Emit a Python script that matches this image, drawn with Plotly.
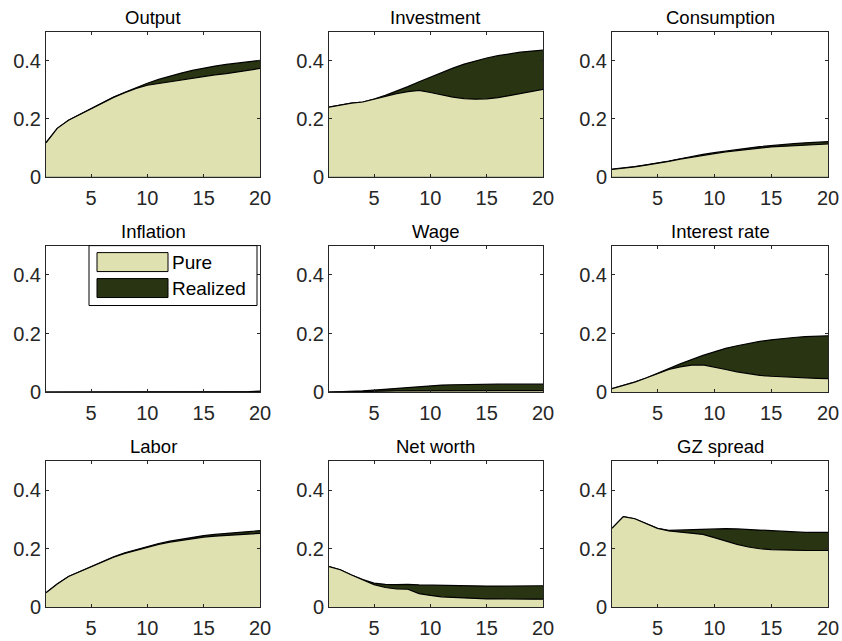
import plotly.graph_objects as go

# Impulse responses, periods 1..20
periods = list(range(1, 21))

titles = ["Output", "Investment", "Consumption",
          "Inflation", "Wage", "Interest rate",
          "Labor", "Net worth", "GZ spread"]

output_pure = [0.117, 0.167, 0.195, 0.215, 0.236, 0.256, 0.274, 0.290, 0.305, 0.316,
               0.322, 0.328, 0.333, 0.340, 0.347, 0.352, 0.356, 0.362, 0.368, 0.374]
output_realized = [0.117, 0.167, 0.195, 0.215, 0.236, 0.256, 0.275, 0.292, 0.308, 0.323,
                   0.336, 0.348, 0.358, 0.367, 0.375, 0.382, 0.388, 0.393, 0.398, 0.402]

investment_pure = [0.240, 0.248, 0.254, 0.258, 0.268, 0.277, 0.287, 0.294, 0.298, 0.291,
                   0.283, 0.275, 0.270, 0.268, 0.269, 0.273, 0.280, 0.288, 0.295, 0.302]
investment_realized = [0.240, 0.248, 0.254, 0.258, 0.268, 0.281, 0.295, 0.311, 0.328, 0.344,
                       0.360, 0.375, 0.389, 0.400, 0.410, 0.418, 0.425, 0.430, 0.434, 0.437]

consumption_pure = [0.025, 0.029, 0.034, 0.040, 0.046, 0.053, 0.061, 0.068, 0.075, 0.080,
                    0.086, 0.091, 0.095, 0.099, 0.103, 0.105, 0.108, 0.110, 0.112, 0.113]
consumption_realized = [0.026, 0.030, 0.035, 0.041, 0.047, 0.054, 0.062, 0.070, 0.077, 0.083,
                        0.089, 0.094, 0.099, 0.104, 0.108, 0.111, 0.114, 0.117, 0.119, 0.121]

inflation_pure = [0.001, 0.001, 0.001, 0.001, 0.001, 0.001, 0.001, 0.001, 0.001, 0.001,
                  0.001, 0.001, 0.001, 0.001, 0.001, 0.001, 0.001, 0.001, 0.001, 0.001]
inflation_realized = [0.001, 0.001, 0.002, 0.002, 0.002, 0.002, 0.002, 0.002, 0.002, 0.002,
                      0.002, 0.002, 0.002, 0.003, 0.003, 0.003, 0.003, 0.003, 0.003, 0.004]

wage_pure = [0.001, 0.002, 0.003, 0.004, 0.004, 0.005, 0.005, 0.005, 0.005, 0.005,
             0.006, 0.006, 0.006, 0.006, 0.006, 0.006, 0.006, 0.006, 0.006, 0.006]
wage_realized = [0.001, 0.002, 0.003, 0.005, 0.008, 0.011, 0.015, 0.018, 0.021, 0.023,
                 0.025, 0.026, 0.027, 0.027, 0.028, 0.028, 0.028, 0.028, 0.028, 0.028]

interest_pure = [0.013, 0.023, 0.035, 0.049, 0.064, 0.078, 0.087, 0.093, 0.094, 0.087,
                 0.078, 0.070, 0.063, 0.058, 0.055, 0.053, 0.050, 0.049, 0.048, 0.047]
interest_realized = [0.013, 0.023, 0.035, 0.049, 0.064, 0.081, 0.097, 0.112, 0.126, 0.138,
                     0.150, 0.159, 0.167, 0.174, 0.179, 0.184, 0.187, 0.190, 0.192, 0.193]

labor_pure = [0.049, 0.079, 0.105, 0.122, 0.139, 0.155, 0.171, 0.184, 0.195, 0.206,
              0.215, 0.223, 0.229, 0.235, 0.240, 0.243, 0.246, 0.249, 0.251, 0.253]
labor_realized = [0.049, 0.079, 0.105, 0.122, 0.139, 0.156, 0.172, 0.186, 0.197, 0.209,
                  0.218, 0.226, 0.233, 0.240, 0.245, 0.249, 0.253, 0.256, 0.259, 0.262]

networth_pure = [0.139, 0.128, 0.110, 0.094, 0.077, 0.067, 0.062, 0.061, 0.046, 0.040,
                 0.035, 0.033, 0.031, 0.030, 0.028, 0.028, 0.027, 0.027, 0.027, 0.027]
networth_realized = [0.139, 0.128, 0.110, 0.094, 0.082, 0.078, 0.077, 0.078, 0.076, 0.075,
                     0.074, 0.073, 0.073, 0.072, 0.072, 0.072, 0.072, 0.072, 0.073, 0.073]

gz_pure = [0.270, 0.310, 0.303, 0.287, 0.270, 0.261, 0.257, 0.253, 0.249, 0.238,
           0.226, 0.215, 0.206, 0.200, 0.197, 0.195, 0.195, 0.194, 0.194, 0.194]
gz_realized = [0.270, 0.310, 0.303, 0.287, 0.270, 0.263, 0.264, 0.266, 0.268, 0.269,
               0.269, 0.268, 0.266, 0.263, 0.261, 0.259, 0.257, 0.256, 0.256, 0.256]

pure_series = [output_pure, investment_pure, consumption_pure,
               inflation_pure, wage_pure, interest_pure,
               labor_pure, networth_pure, gz_pure]
realized_series = [output_realized, investment_realized, consumption_realized,
                   inflation_realized, wage_realized, interest_realized,
                   labor_realized, networth_realized, gz_realized]

x_ticks = [5, 10, 15, 20]
y_ticks = [0, 0.2, 0.4]
y_ticktext = ["0", "0.2", "0.4"]

PURE_COLOR = "rgb(224,225,177)"
REALIZED_COLOR = "rgb(40,52,18)"
AXIS_COLOR = "#262626"
FONT = "Liberation Sans, Arial, sans-serif"

# layout grid expressed on an 842 x 641 canvas
GW, GH = 842, 641
FIG_W, FIG_H = 853, 651
# axes boxes in pixels (left, right) and (top, bottom)
col_px = [(46, 260), (329, 543), (612, 828)]
row_px = [(32, 177), (246, 393), (462, 608)]


def px_x(p):
    return p / GW


def px_y(p):
    return 1 - p / GH


fig = go.Figure()
layout = {}
annotations = []

for i in range(9):
    r, c = divmod(i, 3)
    n = i + 1
    xa = "x" if n == 1 else f"x{n}"
    ya = "y" if n == 1 else f"y{n}"
    fig.add_trace(go.Scatter(
        x=periods, y=realized_series[i], mode="lines", fill="tozeroy",
        fillcolor=REALIZED_COLOR, line=dict(color="black", width=1.2),
        xaxis=xa, yaxis=ya, showlegend=False, hoverinfo="skip"))
    fig.add_trace(go.Scatter(
        x=periods, y=pure_series[i], mode="lines", fill="tozeroy",
        fillcolor=PURE_COLOR, line=dict(color="black", width=1.2),
        xaxis=xa, yaxis=ya, showlegend=False, hoverinfo="skip"))

    xl, xr = col_px[c]
    yt, yb = row_px[r]
    xkey = "xaxis" if n == 1 else f"xaxis{n}"
    ykey = "yaxis" if n == 1 else f"yaxis{n}"
    layout[xkey] = dict(
        domain=[px_x(xl), px_x(xr)], anchor=ya, range=[1, 20],
        tickvals=x_ticks, ticks="inside", ticklen=3, tickcolor=AXIS_COLOR,
        showline=True, linecolor=AXIS_COLOR, linewidth=1, mirror="ticks",
        showgrid=False, zeroline=False, ticklabelstandoff=3,
        tickfont=dict(family=FONT, size=20, color=AXIS_COLOR))
    layout[ykey] = dict(
        domain=[px_y(yb), px_y(yt)], anchor=xa, range=[0, 0.5],
        tickvals=y_ticks, ticktext=y_ticktext, ticks="inside", ticklen=3,
        tickcolor=AXIS_COLOR, showline=True, linecolor=AXIS_COLOR, linewidth=1,
        mirror="ticks", showgrid=False, zeroline=False,
        tickfont=dict(family=FONT, size=20, color=AXIS_COLOR))
    annotations.append(dict(
        text=titles[i], xref="paper", yref="paper",
        x=px_x((xl + xr) / 2), y=px_y(yt - 2), xanchor="center", yanchor="bottom",
        showarrow=False, font=dict(family=FONT, size=18.5, color="black")))

# Legend box drawn inside the Inflation panel
shapes = [
    dict(type="rect", xref="paper", yref="paper",
         x0=px_x(89), x1=px_x(257), y0=px_y(306), y1=px_y(246),
         line=dict(color="black", width=1), fillcolor="white", layer="above"),
    dict(type="rect", xref="paper", yref="paper",
         x0=px_x(97), x1=px_x(168), y0=px_y(272), y1=px_y(253),
         line=dict(color="black", width=1), fillcolor=PURE_COLOR, layer="above"),
    dict(type="rect", xref="paper", yref="paper",
         x0=px_x(97), x1=px_x(168), y0=px_y(298), y1=px_y(279),
         line=dict(color="black", width=1), fillcolor=REALIZED_COLOR, layer="above"),
]
for label, yc in [("Pure", 262.5), ("Realized", 288.5)]:
    annotations.append(dict(
        text=label, xref="paper", yref="paper", x=px_x(170), y=px_y(yc),
        xanchor="left", yanchor="middle", showarrow=False,
        font=dict(family=FONT, size=19, color="black")))

fig.update_layout(
    width=FIG_W, height=FIG_H, margin=dict(l=0, r=0, t=0, b=0),
    paper_bgcolor="white", plot_bgcolor="white",
    annotations=annotations, shapes=shapes, showlegend=False, **layout)

fig.write_html("out.html")
